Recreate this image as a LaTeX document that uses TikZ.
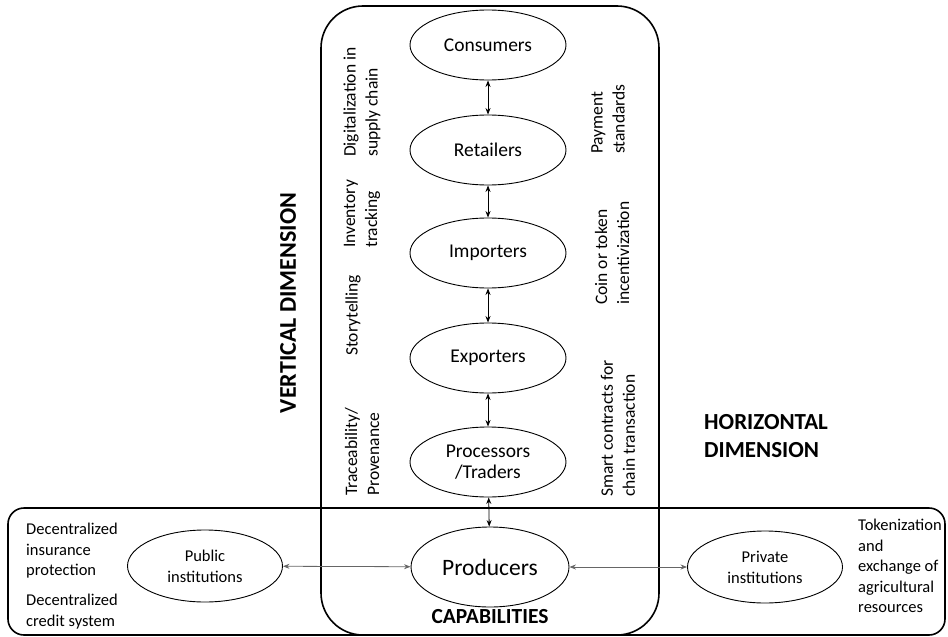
\documentclass[tikz,border=0pt]{standalone}
\usepackage{fontspec}
\setmainfont{Carlito}
\usetikzlibrary{arrows.meta,shapes.geometric}
\begin{document}
\begin{tikzpicture}[x=1pt,y=-1pt,
  actor/.style={draw,ellipse,line width=0.9pt,inner sep=0pt,minimum width=156pt,minimum height=70pt,font=\fontsize{19.5}{21.5}\selectfont,align=center},
  bigbox/.style={draw,line width=1.6pt},
  link/.style={line width=0.8pt,{Stealth[length=6.5pt,width=5pt]}-{Stealth[length=6.5pt,width=5pt]}},
  hlink/.style={link,draw=black!60},
  side/.style={rotate=90,anchor=west,align=left,inner sep=0pt,font=\fontsize{17.5}{22}\selectfont},
  plain/.style={anchor=north west,align=left,inner sep=0pt,font=\fontsize{16.5}{20.5}\selectfont},
  title/.style={font=\fontsize{23}{28}\selectfont\bfseries,inner sep=0pt}]
\useasboundingbox (0,0) rectangle (948,637);
% frames
\draw[bigbox,rounded corners=16pt] (8,508) rectangle (945,635);
\draw[bigbox,rounded corners=42pt] (321,6) rectangle (659,635);
% chain
\node[actor] (cons) at (488,45) {Consumers};
\node[actor] (ret) at (488,150) {Retailers};
\node[actor] (imp) at (488,253) {Importers};
\node[actor] (exp) at (488,358) {Exporters};
\node[actor] (proc) at (488,462) {Processors\\/Traders};
\node[actor,minimum width=158pt,minimum height=80pt,font=\fontsize{23.5}{26}\selectfont] (prod) at (490,567) {Producers};
\node[actor,minimum width=155pt,minimum height=72pt,font=\fontsize{16.5}{21}\selectfont] (pub) at (205,566) {Public\\institutions};
\node[actor,minimum width=155pt,minimum height=72pt,font=\fontsize{16.5}{21}\selectfont] (priv) at (765,567) {Private\\institutions};
\draw[link] (cons) -- (ret);
\draw[link] (ret) -- (imp);
\draw[link] (imp) -- (exp);
\draw[link] (exp) -- (proc);
\draw[link] (proc) -- (prod);
\draw[hlink] (pub) -- (prod);
\draw[hlink] (prod) -- (priv);
% side texts
\node[side] (t1) at (362,157) {Digitalization in\\supply chain};
\node[side] (t2) at (362,248) {Inventory\\tracking};
\node[side] (t3) at (353,356) {Storytelling};
\node[side] (t4) at (362,496) {Traceability/\\Provenance};
\node[side] (t5) at (608,154) {Payment\\standards};
\node[side] (t6) at (612,305) {Coin or token\\incentivization};
\node[side] (t7) at (618,497) {Smart contracts for\\chain transaction};
% titles
\node[title,rotate=90,font=\fontsize{24}{28}\selectfont\bfseries] (vd) at (288,303) {VERTICAL DIMENSION};
\node[title,anchor=west,align=left] (hd) at (704,436) {HORIZONTAL\\DIMENSION};
\node[title,font=\fontsize{21.5}{24}\selectfont\bfseries] (cap) at (490,617) {CAPABILITIES};
% left / right texts
\node[plain] (l1) at (26,523) {Decentralized\\insurance\\protection};
\node[plain] (l2) at (26,594) {Decentralized\\credit system};
\node[plain] (r1) at (858,519) {Tokenization\\and\\exchange of\\agricultural\\resources};
\end{tikzpicture}
\end{document}
